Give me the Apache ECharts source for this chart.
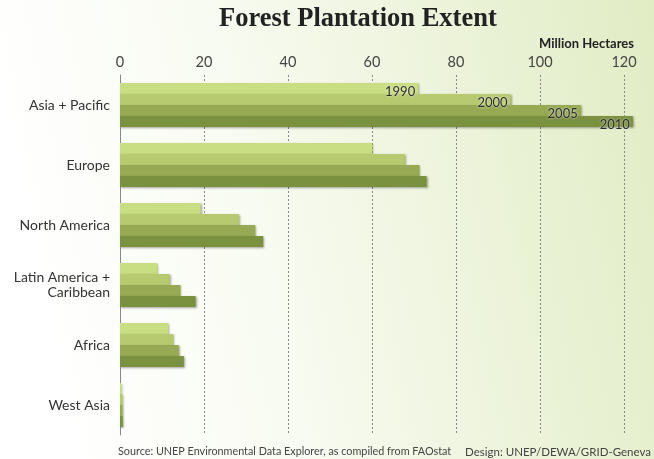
<!DOCTYPE html>
<html><head><meta charset="utf-8">
<script src="https://cdn.jsdelivr.net/npm/echarts@6/dist/echarts.min.js"></script>
<style>html,body{margin:0;padding:0;}#c{width:654px;height:459px;}</style>
</head><body><div id="c"></div>
<script>
const categories = ['Asia + Pacific', 'Europe', 'North America', 'Latin America +\nCaribbean', 'Africa', 'West Asia'];
const years = ['1990', '2000', '2005', '2010'];
const v1990 = [71.0, 60.1, 19.2, 8.9, 11.5, 0.3];
const v2000 = [93.0, 67.8, 28.3, 11.8, 12.7, 0.55];
const v2005 = [109.7, 71.3, 32.2, 14.4, 14.0, 0.6];
const v2010 = [122.1, 73.0, 34.1, 18.0, 15.2, 0.65];
const xTicks = [0, 20, 40, 60, 80, 100, 120];
const colors = ['#c9dd82', '#b7ca70', '#97aa53', '#7a9140'];
const seriesData = [v1990, v2000, v2005, v2010];

const chart = echarts.init(document.getElementById('c'));
const series = years.map((y, i) => ({
  name: y, type: 'bar', clip: false,
  data: seriesData[i].map((v, j) => j === 0 ? {
    value: v,
    label: {show: true, position: 'insideRight', offset: [2, 3], formatter: y,
      color: '#2a2a2a', fontSize: 13, fontFamily: 'Lato, sans-serif',
      textShadowColor: 'rgba(255,255,255,0.9)', textShadowBlur: 2}
  } : v),
  barWidth: 11, barGap: '0%',
  itemStyle: {color: colors[i], shadowColor: 'rgba(0,0,0,0.35)', shadowBlur: 2, shadowOffsetX: 1, shadowOffsetY: 1}
}));

chart.setOption({
  animation: false,
  graphic: [{
    type: 'rect', z: -10, silent: true,
    shape: {x: 0, y: 0, width: 654, height: 459},
    style: {fill: new echarts.graphic.LinearGradient(0, 0.3, 1, 0, [
      {offset: 0, color: '#ffffff'}, {offset: 0.35, color: '#f8fbf1'}, {offset: 1, color: '#e1ecc4'}])}
  }, {
    type: 'text', left: 219, top: 6, z: 10,
    style: {text: 'Forest Plantation Extent', font: 'bold 26.5px "Liberation Serif", serif', fill: '#222'}
  }, {
    type: 'text', right: 20, top: 37, z: 10,
    style: {text: 'Million Hectares', font: 'bold 13px Lato, sans-serif', fill: '#222'}
  }, {
    type: 'text', left: 118, top: 446, z: 10,
    style: {text: 'Source: UNEP Environmental Data Explorer, as compiled from FAOstat', font: '10.8px Lato, sans-serif', fill: '#444'}
  }, {
    type: 'text', right: 3, top: 446, z: 10,
    style: {text: 'Design: UNEP/DEWA/GRID-Geneva', font: '11.5px Lato, sans-serif', fill: '#444'}
  }],
  grid: {left: 120, right: 30, top: 75, bottom: 24},
  xAxis: {
    type: 'value', position: 'top', min: 0, max: 120, interval: 20,
    axisLine: {show: false},
    axisTick: {show: false},
    axisLabel: {color: '#444', fontSize: 14.5, fontFamily: 'Lato, sans-serif', margin: 5,
      formatter: v => xTicks.includes(v) ? String(v) : ''},
    splitLine: {show: true, lineStyle: {color: '#888', type: [2, 2], width: 1}}
  },
  yAxis: {
    type: 'category', data: categories, inverse: true,
    axisLine: {show: true, lineStyle: {color: '#888', width: 1}},
    axisTick: {show: false},
    axisLabel: {color: '#333', fontSize: 14, fontFamily: 'Lato, sans-serif', margin: 10, lineHeight: 15, align: 'right'}
  },
  series: series
});
</script></body></html>
